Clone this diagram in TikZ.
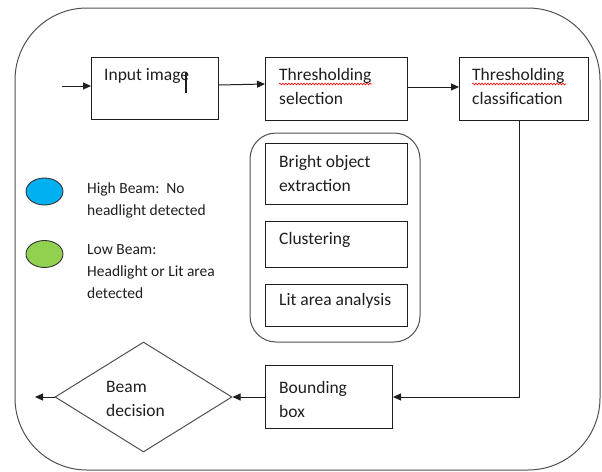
\documentclass[tikz,border=0pt]{standalone}
\usepackage{fontspec}
\setmainfont{Carlito}
\usetikzlibrary{arrows.meta,shapes.geometric,decorations.pathmorphing}

\definecolor{beamblue}{HTML}{00B0F0}
\definecolor{beamgreen}{HTML}{92D050}
\definecolor{frame}{HTML}{505050}
\definecolor{ink}{HTML}{1E1E1E}

\begin{document}
\begin{tikzpicture}[x=1pt,y=-1pt,
  box/.style={draw=ink, line width=1pt, inner sep=0pt, anchor=north west},
  % multi-line labels are placed by the baseline of their last line
  lbl/.style={anchor=base west, align=left, inner sep=0pt, text=ink,
              font=\fontsize{17.5}{24}\selectfont},
  small/.style={anchor=base west, align=left, inner sep=0pt, text=ink,
                font=\fontsize{15.5}{22}\selectfont},
  flow/.style={draw=ink, line width=1pt, -{Triangle[length=8pt,width=7pt]}},
  plain/.style={draw=ink, line width=1pt},
  spell/.style={draw=red, line width=0.6pt, decorate,
                decoration={snake, amplitude=0.9pt, segment length=3pt}},
  legend/.style={ellipse, draw=black!80, line width=0.9pt, inner sep=0pt,
                 minimum width=37pt, minimum height=27pt}]
\useasboundingbox (0,0) rectangle (602,471);

% outer frame
\draw[frame, line width=1pt, rounded corners=72pt] (15,8) rectangle (600,470);

% top row of processing steps
\node[box, minimum width=127pt, minimum height=62pt] (input) at (91,57) {};
\node[lbl] (inputtxt) at (104,80) {Input image};
\draw[ink, line width=1.6pt] (186,72) -- (186,93);

\node[box, minimum width=142pt, minimum height=63pt] (tsel) at (265,57) {};
\node[lbl] (tseltxt) at (279,104) {Thresholding\\selection};
\draw[spell] (279,84) -- (372,84);

\node[box, minimum width=129pt, minimum height=63pt] (tcls) at (459,57) {};
\node[lbl] (tclstxt) at (472,104) {Thresholding\\classification};
\draw[spell] (472,84) -- (566,84);

% grouped detection steps
\draw[plain, draw=frame, rounded corners=26pt] (250,133) rectangle (420,342);
\node[box, minimum width=142pt, minimum height=61pt] (bright) at (265,143) {};
\node[lbl] (brighttxt) at (279,191) {Bright object\\extraction};
\node[box, minimum width=142pt, minimum height=46pt] (clust) at (265,221) {};
\node[lbl] (clusttxt) at (279,244) {Clustering};
\node[box, minimum width=142pt, minimum height=42pt] (lit) at (265,284) {};
\node[lbl] (littxt) at (279,305) {Lit area analysis};

% bottom row
\node[box, minimum width=127pt, minimum height=63pt] (bbox) at (265,365) {};
\node[lbl] (bboxtxt) at (279,417) {Bounding\\box};
\node[diamond, draw=frame, line width=1pt, inner sep=0pt,
      minimum width=177pt, minimum height=110pt] (decide) at (143.5,397) {};
\node[lbl] (decidetxt) at (106,416) {Beam\\decision};

% legend
\node[legend, fill=beamblue] (high) at (44.5,191.5) {};
\node[small] (hightxt) at (87,215) {High Beam:\ \ No\\headlight detected};
\node[legend, fill=beamgreen] (low) at (44.5,254) {};
\node[small] (lowtxt) at (87,298) {Low Beam:\\Headlight or Lit area\\detected};

% connectors
\coordinate (entry) at (62,86);
\coordinate (down) at (519,397);
\coordinate (exit) at (35,397);
\draw[flow] (entry) -- (input.west |- entry);
\draw[flow] (input.east |- 0,85) -- (tsel.west |- 0,84);
\draw[flow] (tsel.east |- 0,87) -- (tcls.west |- 0,87);
\draw[flow] (tcls.south -| down) -- (down) -- (bbox.east |- down);
\draw[flow] (bbox.west |- down) -- (decide.east);
\draw[flow] (decide.west) -- (exit);
\end{tikzpicture}
\end{document}
